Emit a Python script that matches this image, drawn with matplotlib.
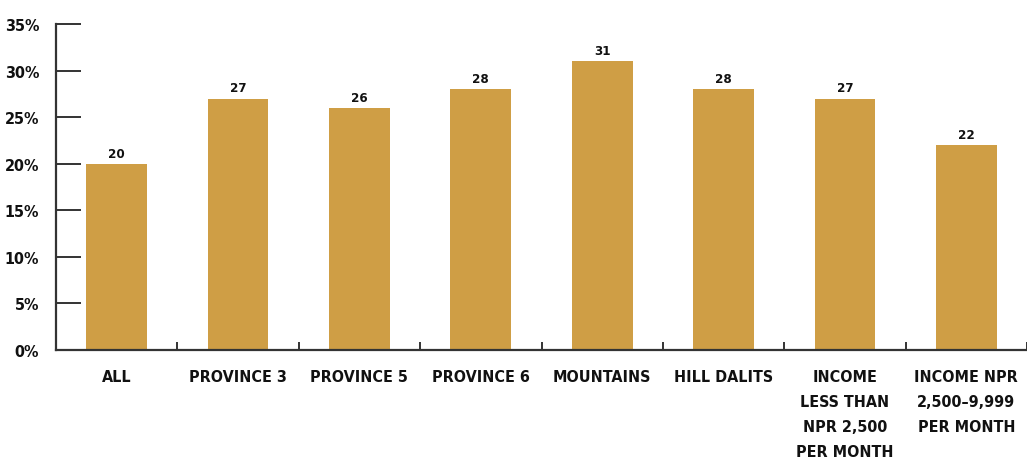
import matplotlib
matplotlib.use("Agg")
import matplotlib.pyplot as plt
import numpy as np

categories = ["ALL", "PROVINCE 3", "PROVINCE 5", "PROVINCE 6", "MOUNTAINS", "HILL DALITS",
              "INCOME\nLESS THAN\nNPR 2,500\nPER MONTH", "INCOME NPR\n2,500\u20139,999\nPER MONTH"]
values = [20, 27, 26, 28, 31, 28, 27, 22]
yticks = [0, 5, 10, 15, 20, 25, 30, 35]
ytick_labels = ["0%", "5%", "10%", "15%", "20%", "25%", "30%", "35%"]

bar_color = "#CF9E45"
axis_color = "#333333"
font = dict(family="DejaVu Sans", stretch="condensed", weight="bold")

fig = plt.figure(figsize=(10.27, 4.6), dpi=100)
ax = fig.add_axes([56/1027, 1-351/460, 1-56/1027, (351-25)/460])

x = np.arange(len(categories))
bars = ax.bar(x, values, width=0.5, color=bar_color, zorder=2)
for xi, v in zip(x, values):
    ax.text(xi, v + 0.45, str(v), ha="center", va="bottom", fontsize=9.5, color="#111111", **font)

ax.set_xlim(-0.5, len(categories) - 0.5)
ax.set_ylim(0, 35)
ax.set_yticks(yticks)
ax.set_yticklabels(ytick_labels, fontsize=11.5, color="#111111", **font)
ax.set_xticks(x)
ax.set_xticklabels(categories, fontsize=11.5, color="#111111", linespacing=1.82, va="top", **font)
ax.tick_params(axis="x", length=0, pad=14)
ax.set_xticks(np.arange(len(categories) + 1) - 0.5, minor=True)
ax.tick_params(axis="x", which="minor", direction="in", length=6, width=1.4, color=axis_color)
ax.tick_params(axis="y", direction="in", length=18, width=1.4, color=axis_color, pad=12)

for s in ["top", "right"]:
    ax.spines[s].set_visible(False)
for s in ["left", "bottom"]:
    ax.spines[s].set_color(axis_color)
    ax.spines[s].set_linewidth(1.6)

fig.savefig("out.png", dpi=100)
